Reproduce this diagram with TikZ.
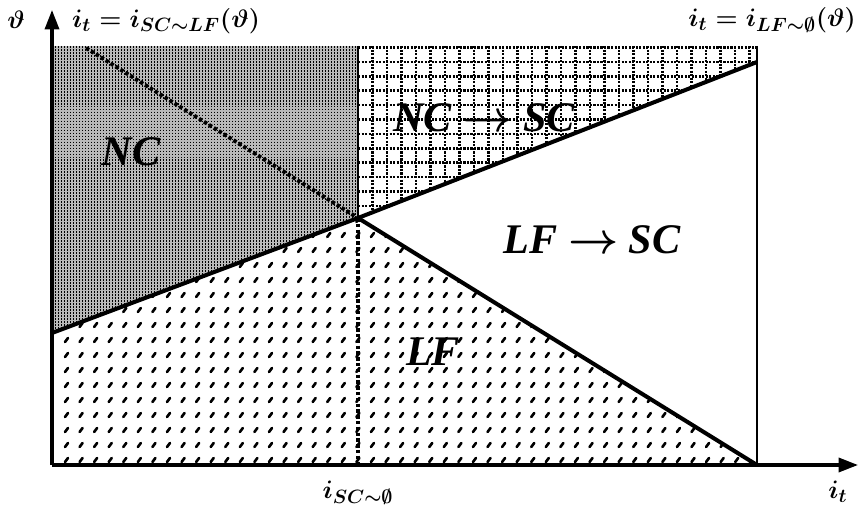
\documentclass[tikz,border=0pt]{standalone}
\usepackage{amsmath,amssymb}
\usepackage{fontspec}
\setmainfont{Liberation Serif}
\usetikzlibrary{arrows.meta}
\DeclareMathSizes{14.5}{14.5}{10.5}{8}
\tikzset{
  axis/.style={line width=1.8pt, -{Triangle[length=11pt,width=8pt]}},
  bound/.style={line width=2.3pt},
  thinbound/.style={line width=1.2pt},
  dotline/.style={line width=2.2pt, dash pattern=on 2pt off 1.3pt},
  ncstripe/.style={line width=1.1pt, dash pattern=on 1pt off 0.7pt},
  gridline/.style={line width=1.4pt, dash pattern=on 1.2pt off 0.8pt},
  slash/.style={line width=1.5pt, line cap=round},
  region/.style={font=\fontsize{24}{26}\selectfont\bfseries\itshape},
  mlabel/.style={font=\fontsize{14.5}{16}\selectfont},
}
\begin{document}
\boldmath
\begin{tikzpicture}[x=0.02cm, y=-0.02cm]
\useasboundingbox (0,0) rectangle (860,510);
\coordinate (O) at (52,465);
\coordinate (ytop) at (52,10);
\coordinate (xend) at (858,465);
\coordinate (P) at (358,218);
\coordinate (TL) at (52,46);
\coordinate (TM) at (358,46);
\coordinate (TR) at (757,46);
\coordinate (R) at (757,62);
\coordinate (L) at (52,333);
\coordinate (B) at (757,465);
\coordinate (M) at (358,465);
\coordinate (D) at (86,48);

% NC
\begin{scope}
\clip (TL) -- (TM) -- (P) -- (L) -- cycle;
\fill[gray!55] (TL) rectangle (P |- L);
\foreach \i in {0,...,102}
  \draw[ncstripe] (52.5+3*\i,46) -- (52.5+3*\i,334);
\end{scope}
% NC -> SC
\begin{scope}
\clip (TM) -- (TR) -- (R) -- (P) -- cycle;
\foreach \i in {0,...,27}
  \draw[gridline] (358+14.5*\i,46) -- (358+14.5*\i,220);
\foreach \j in {0,...,12}
  \draw[gridline] (358,47.5+14.4*\j) -- (757,47.5+14.4*\j);
\end{scope}
% LF
\begin{scope}
\clip (L) -- (P) -- (B) -- (O) -- cycle;
\foreach \i in {0,...,48}
  \foreach \j in {0,...,16}
    \draw[slash] (65+14.57*\i,462-15*\j) -- ++(3,-4);
\end{scope}

\draw[dotline] (D) -- (P);
\draw[dotline] (P) -- (M);
\draw[thinbound, line width=1.6pt] (TM) -- (P);
\draw[bound] (L) -- (P) -- (R);
\draw[bound] (P) -- (B);
\draw[thinbound] (TR) -- (B);
\draw[axis] (O) -- (ytop);
\draw[axis] (O) -- (xend);

\node[region] (nc) at (131,152) {NC};
\node[region] (ncsc) at (484,118) {NC $\rightarrow$ SC};
\node[region] (lfsc) at (592,240) {LF $\rightarrow$ SC};
\node[region] (lf) at (433,352) {LF};

\node[mlabel] (theta) at (16,20) {$\vartheta$};
\node[mlabel] (isclf) at (166,21) {$i_t = i_{SC\sim LF}(\vartheta)$};
\node[mlabel] (ilfe) at (772,20) {$i_t = i_{LF\sim\emptyset}(\vartheta)$};
\node[mlabel] (isce) at (358,493) {$i_{SC\sim\emptyset}$};
\node[mlabel] (it) at (838,492) {$i_t$};
\end{tikzpicture}
\end{document}
